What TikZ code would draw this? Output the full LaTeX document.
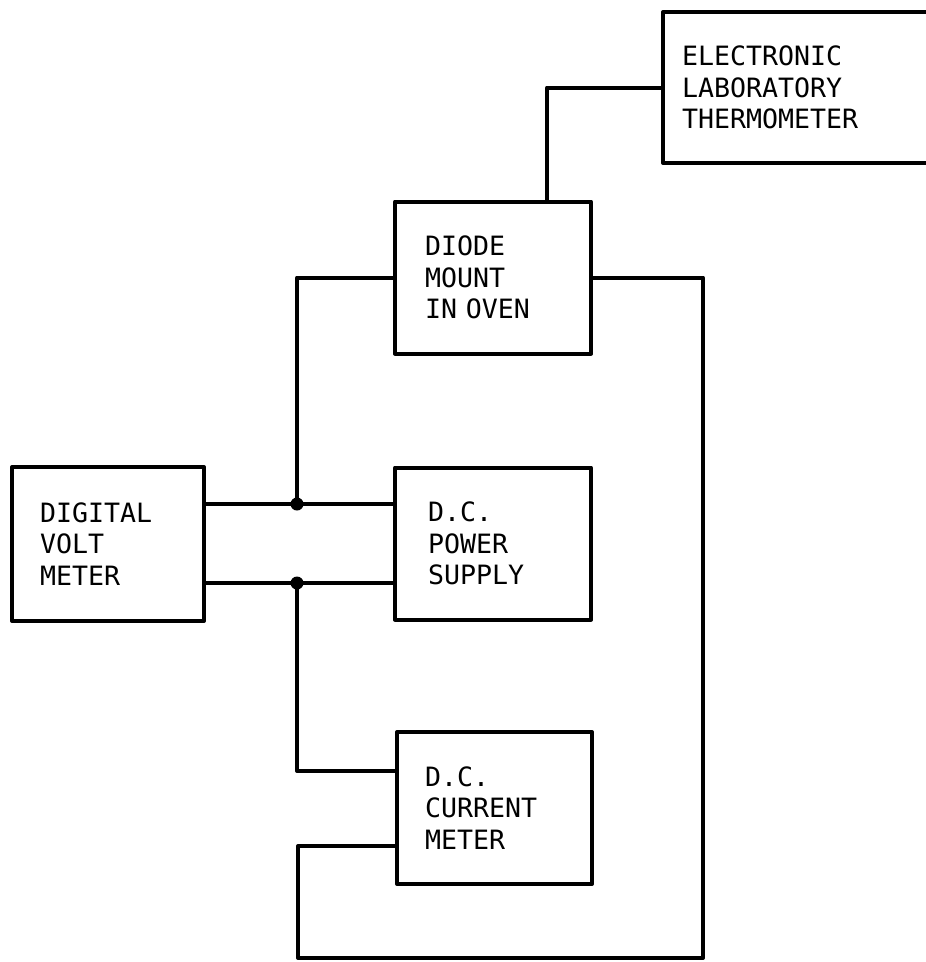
\documentclass[tikz,border=0pt]{standalone}
\usepackage{fontspec}
\newfontfamily\blockfont{DejaVu Sans Mono}
\begin{document}
\begin{tikzpicture}[x=1pt, y=-1pt, line join=round, line cap=round,
    wire/.style={line width=4pt},
    block/.style={draw, line width=4pt, minimum height=152pt, text width=136pt,
      inner xsep=30pt, inner ysep=0pt, align=left,
      font=\blockfont\fontsize{26.6}{31.5}\selectfont},
    junction/.style={circle, fill, inner sep=0pt, minimum size=13pt}]
  \useasboundingbox (0,0) rectangle (926,962);
  \clip (0,0) rectangle (926,962);
  % blocks
  \node[block, text width=252pt, inner xsep=19pt, minimum height=151pt] (thermo) at (808,87.5) {ELECTRONIC\\LABORATORY\\THERMOMETER};
  \node[block] (diode) at (493,277.5) {DIODE\\MOUNT\\IN OVEN};
  \node[block, text width=136pt, inner xsep=28pt, minimum height=154pt] (dvm) at (108,544) {DIGITAL\\VOLT\\METER};
  \node[block, text width=130pt, inner xsep=33pt] (psu) at (493,543.5) {D.C.\\POWER\\SUPPLY};
  \node[block, text width=139pt, inner xsep=28pt] (ammeter) at (494.5,808) {D.C.\\CURRENT\\METER};
  % bend points
  \coordinate (tap) at (547,89);
  \coordinate (jtop) at (297,504);
  \coordinate (jbot) at (297,583);
  \coordinate (amtop) at (297,771);
  \coordinate (ambot) at (298,846);
  \coordinate (loopl) at (298,958);
  \coordinate (loopr) at (703,958);
  % wiring
  \draw[wire] (thermo.west) -| (tap |- diode.north);
  \draw[wire] (diode.west) -| (jtop);
  \draw[wire] (dvm.east |- jtop) -- (psu.west |- jtop);
  \draw[wire] (dvm.east |- jbot) -- (psu.west |- jbot);
  \draw[wire] (jbot) |- (ammeter.west |- amtop);
  \draw[wire] (ammeter.west |- ambot) -| (loopl) -- (loopr) |- (diode.east);
  \node[junction] (dtop) at (jtop) {};
  \node[junction] (dbot) at (jbot) {};
\end{tikzpicture}
\end{document}
